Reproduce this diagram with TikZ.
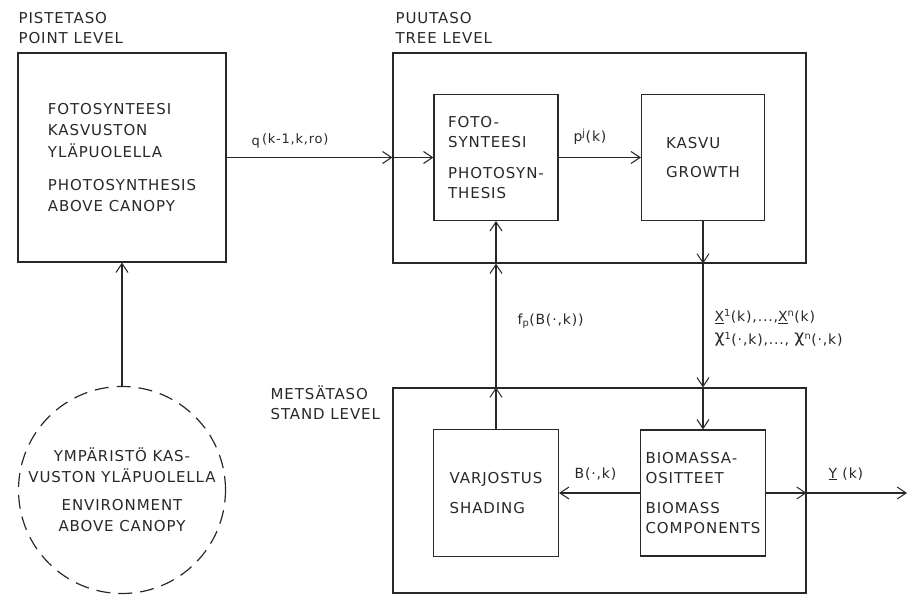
\documentclass[tikz,border=0pt]{standalone}
\usepackage{fontspec}
\setmainfont{DejaVu Sans}[LetterSpace=6]
\usetikzlibrary{arrows.meta}
\definecolor{ink}{RGB}{40,40,40}
\newcommand\chisym{\raisebox{2.5pt}{\scalebox{1.25}{χ}}}
\begin{document}
\begin{tikzpicture}[x=1pt,y=-1pt,color=ink,line width=1.2pt,
  box/.style={draw,rectangle,inner sep=0pt,align=left,font=\fontsize{15}{20}\selectfont},
  lvl/.style={anchor=north west,inner sep=0pt,align=left,font=\fontsize{15}{20}\selectfont},
  lbl/.style={anchor=base west,inner sep=0pt,font=\fontsize{14}{23}\selectfont},
  arr/.style={-{Straight Barb[length=9pt,width=12pt,line width=1pt]}}]
\useasboundingbox (0,0) rectangle (908,596);
% level boxes
\node[box,minimum width=413pt,minimum height=210pt] (tree) at (599.5,158) {};
\node[box,minimum width=413pt,minimum height=205pt] (stand) at (599.5,490.5) {};
% blocks
\node[box,minimum width=208pt,minimum height=209pt,font=\fontsize{15}{21.5}\selectfont] (pt) at (122,157.5)
  {FOTOSYNTEESI\\KASVUSTON\\YLÄPUOLELLA\\[11.5pt]PHOTOSYNTHESIS\\ABOVE CANOPY};
\node[box,minimum width=124pt,minimum height=126pt] (foto) at (496,157.5)
  {FOTO-\\SYNTEESI\\[11pt]PHOTOSYN-\\THESIS};
\node[box,minimum width=123pt,minimum height=126pt] (kasvu) at (703,157.5)
  {KASVU\\[9pt]GROWTH};
\node[box,minimum width=125pt,minimum height=127pt] (varj) at (496,493)
  {VARJOSTUS\\[10pt]SHADING};
\node[box,minimum width=125pt,minimum height=126pt] (bio) at (703,493)
  {BIOMASSA-\\OSITTEET\\[10pt]BIOMASS\\COMPONENTS};
\node[circle,draw,dash pattern=on 14pt off 8pt,minimum size=207pt,inner sep=0pt,align=center,
  font=\fontsize{15}{21}\selectfont] (env) at (122,490)
  {YMPÄRISTÖ KAS-\\VUSTON YLÄPUOLELLA\\[7pt]ENVIRONMENT\\ABOVE CANOPY};
% level labels
\node[lvl] (ptl) at (18,12) {PISTETASO\\POINT LEVEL};
\node[lvl] (treel) at (395,12) {PUUTASO\\TREE LEVEL};
\node[lvl] (standl) at (270,385) {METSÄTASO\\STAND LEVEL};
% crossing points
\coordinate (a1) at (tree.west |- pt.east);
\coordinate (b1) at (kasvu.south |- tree.south);
\coordinate (b2) at (kasvu.south |- stand.north);
\coordinate (c1) at (varj.north |- stand.north);
\coordinate (c2) at (varj.north |- tree.south);
\coordinate (d1) at (stand.east |- bio.east);
\coordinate (out) at (907,493);
% connectors
\draw[arr] (env.north) -- (pt.south);
\draw[arr] (pt.east) -- (a1);
\draw[arr] (a1) -- (foto.west);
\draw[arr] (foto.east) -- (kasvu.west);
\draw[arr] (kasvu.south) -- (b1);
\draw[arr] (b1) -- (b2);
\draw[arr] (b2) -- (bio.north);
\draw[arr] (varj.north) -- (c1);
\draw[arr] (c1) -- (c2);
\draw[arr] (c2) -- (foto.south);
\draw[arr] (bio.west) -- (varj.east);
\draw[arr] (bio.east) -- (d1);
\draw[arr] (d1) -- (out);
% connector labels
\node[lbl,font=\fontsize{13}{20}\selectfont] (ql) at (251,146) {q\,\raisebox{2pt}{(k-1,k,ro)}};
\node[lbl] (pjl) at (573,142) {p\textsuperscript{j}(k)};
\node[lbl] (fpl) at (517,324) {f\textsubscript{p}(B(·,k))};
\node[lbl,anchor=north west,align=left] (xl) at (714,309)
  {\underline{X}\textsuperscript{1}(k),...,\underline{X}\textsuperscript{n}(k)\\
   \chisym\textsuperscript{1}(·,k),..., \chisym\textsuperscript{n}(·,k)};
\node[lbl] (bl) at (574,478) {B(·,k)};
\node[lbl] (yl) at (828,478) {\underline{Y} (k)};
\end{tikzpicture}
\end{document}
